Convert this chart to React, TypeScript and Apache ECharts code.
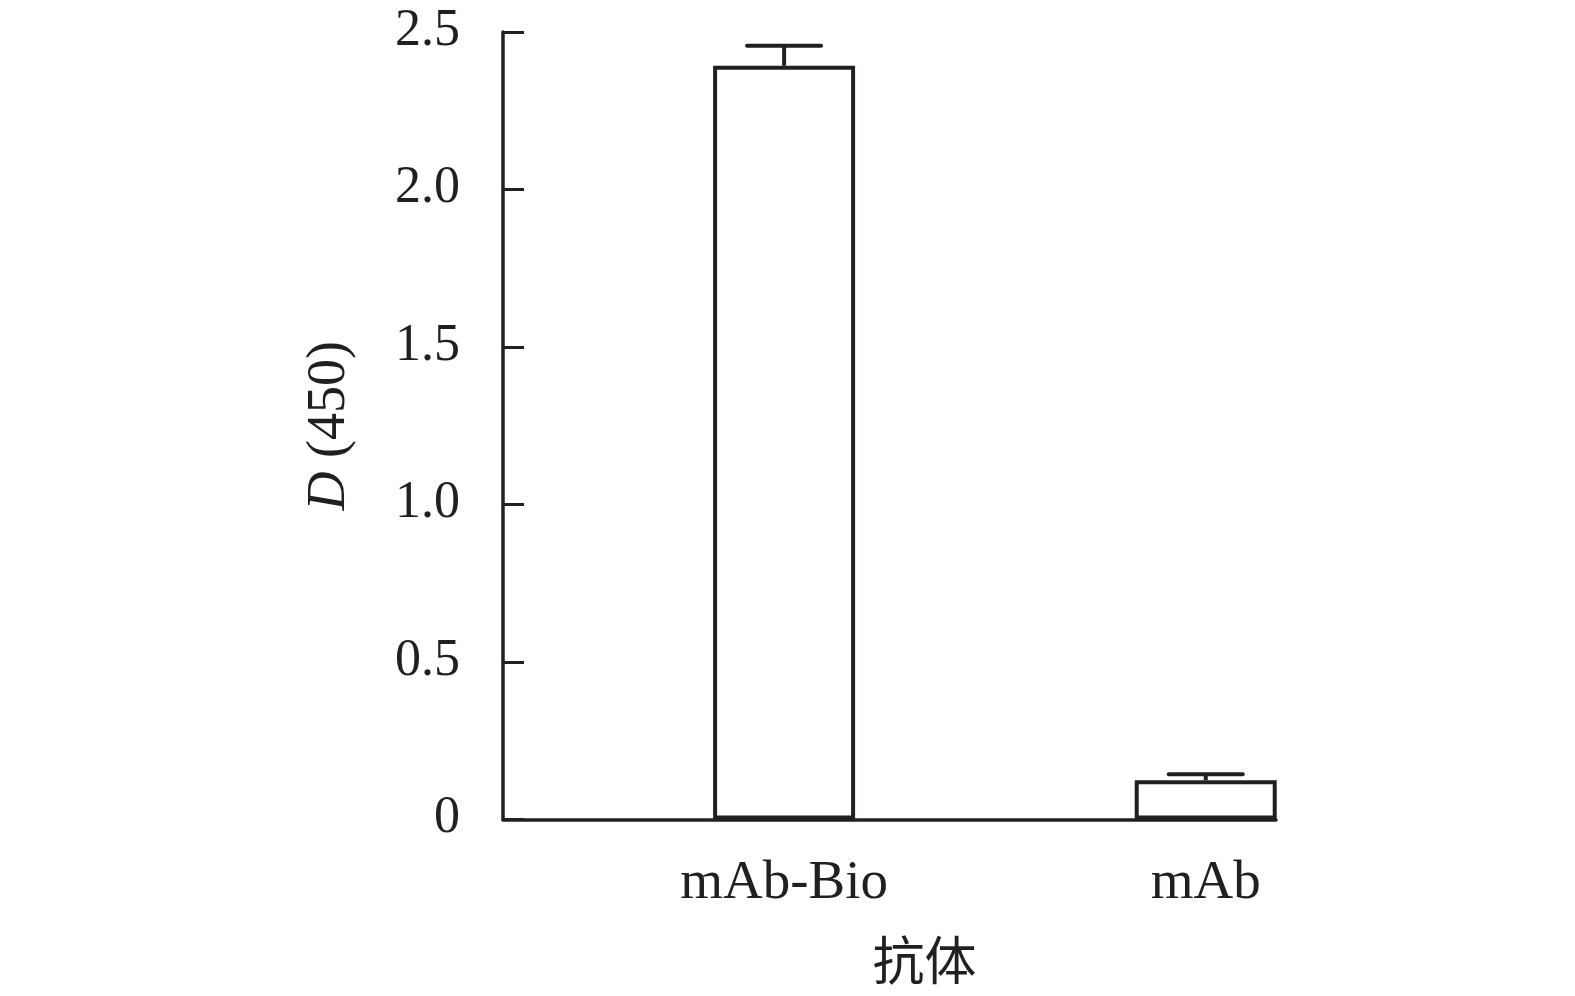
import React, { useEffect, useRef } from "react";
import * as echarts from "echarts";

const categories = ["mAb-Bio", "mAb"];
const means = [2.393, 0.125];
const errors = [0.063, 0.019];
const yTicks = [0, 0.5, 1.0, 1.5, 2.0, 2.5];
const xAxisName = "抗体";
const yAxisName = "{i|D} (450)";

const INK = "#231f20";
const FONT = "'Liberation Serif', 'Times New Roman', serif";

export default function App() {
  const ref = useRef<HTMLDivElement>(null);
  useEffect(() => {
    if (!ref.current) return;
    const chart = echarts.init(ref.current, undefined, { renderer: "svg" });
    const slots = categories.map((_, i) => 2 + 3 * i);
    const barData = categories.map((_, i) => [slots[i], means[i]]);
    const errData = categories.map((_, i) => [slots[i], means[i], means[i] + errors[i]]);
    chart.setOption({
      animation: false,
      backgroundColor: "#ffffff",
      grid: { left: 503, right: 299, top: 32, bottom: 176.5, containLabel: false },
      xAxis: {
        type: "value",
        min: 0,
        max: 5.5,
        interval: 0.5,
        splitLine: { show: false },
        axisTick: { show: false },
        axisLine: { show: true, onZero: false, lineStyle: { color: INK, width: 3.5 } },
        axisLabel: {
          customValues: slots,
          margin: 32,
          color: INK,
          fontFamily: FONT,
          fontSize: 55,
          formatter: (v: number) => {
            const idx = slots.indexOf(v);
            return idx >= 0 ? categories[idx] : "";
          },
        },
        name: xAxisName,
        nameLocation: "middle",
        nameGap: 112,
        nameTextStyle: {
          color: INK,
          fontFamily: "'Noto Sans CJK SC', serif",
          fontSize: 52,
          lineHeight: 52,
          padding: [0, 0, 0, 70],
        },
      },
      yAxis: {
        type: "value",
        min: 0,
        max: 2.5,
        interval: 0.5,
        splitLine: { show: false },
        axisLine: { show: true, lineStyle: { color: INK, width: 3.5 } },
        axisTick: { show: true, inside: true, length: 21, lineStyle: { color: INK, width: 3 } },
        axisLabel: {
          margin: 43,
          color: INK,
          fontFamily: FONT,
          fontSize: 52,
          customValues: yTicks,
          formatter: (v: number) => "{t|" + (v === 0 ? "0" : v.toFixed(1)) + "}",
          rich: {
            t: {
              fontFamily: FONT,
              fontSize: 52,
              color: INK,
              padding: [0, 0, 10, 0],
            },
          },
        },
        name: yAxisName,
        nameLocation: "middle",
        nameGap: 150,
        nameTextStyle: {
          color: INK,
          fontFamily: FONT,
          fontSize: 54,
          rich: {
            i: { fontFamily: FONT, fontStyle: "italic", fontSize: 54, color: INK },
          },
        },
      },
      series: [
        {
          type: "bar",
          data: barData,
          barWidth: 142,
          itemStyle: { color: "#ffffff", borderColor: INK, borderWidth: 4 },
          z: 2,
        },
        {
          type: "custom",
          data: errData,
          z: 3,
          renderItem: (params: any, api: any) => {
            const x = api.value(0);
            const lo = api.coord([x, api.value(1)]);
            const hi = api.coord([x, api.value(2)]);
            const half = 37;
            return {
              type: "group",
              children: [
                {
                  type: "line",
                  shape: { x1: lo[0], y1: lo[1], x2: hi[0], y2: hi[1] },
                  style: { stroke: INK, lineWidth: 4 },
                },
                {
                  type: "line",
                  shape: { x1: hi[0] - half, y1: hi[1], x2: hi[0] + half, y2: hi[1] },
                  style: { stroke: INK, lineWidth: 4, lineCap: "round" },
                },
              ],
            };
          },
        },
      ],
    });
    return () => chart.dispose();
  }, []);
  return (
    <div
      ref={ref}
      style={{ position: "fixed", left: 0, top: 0, width: 1575, height: 996, background: "#fff" }}
    />
  );
}
